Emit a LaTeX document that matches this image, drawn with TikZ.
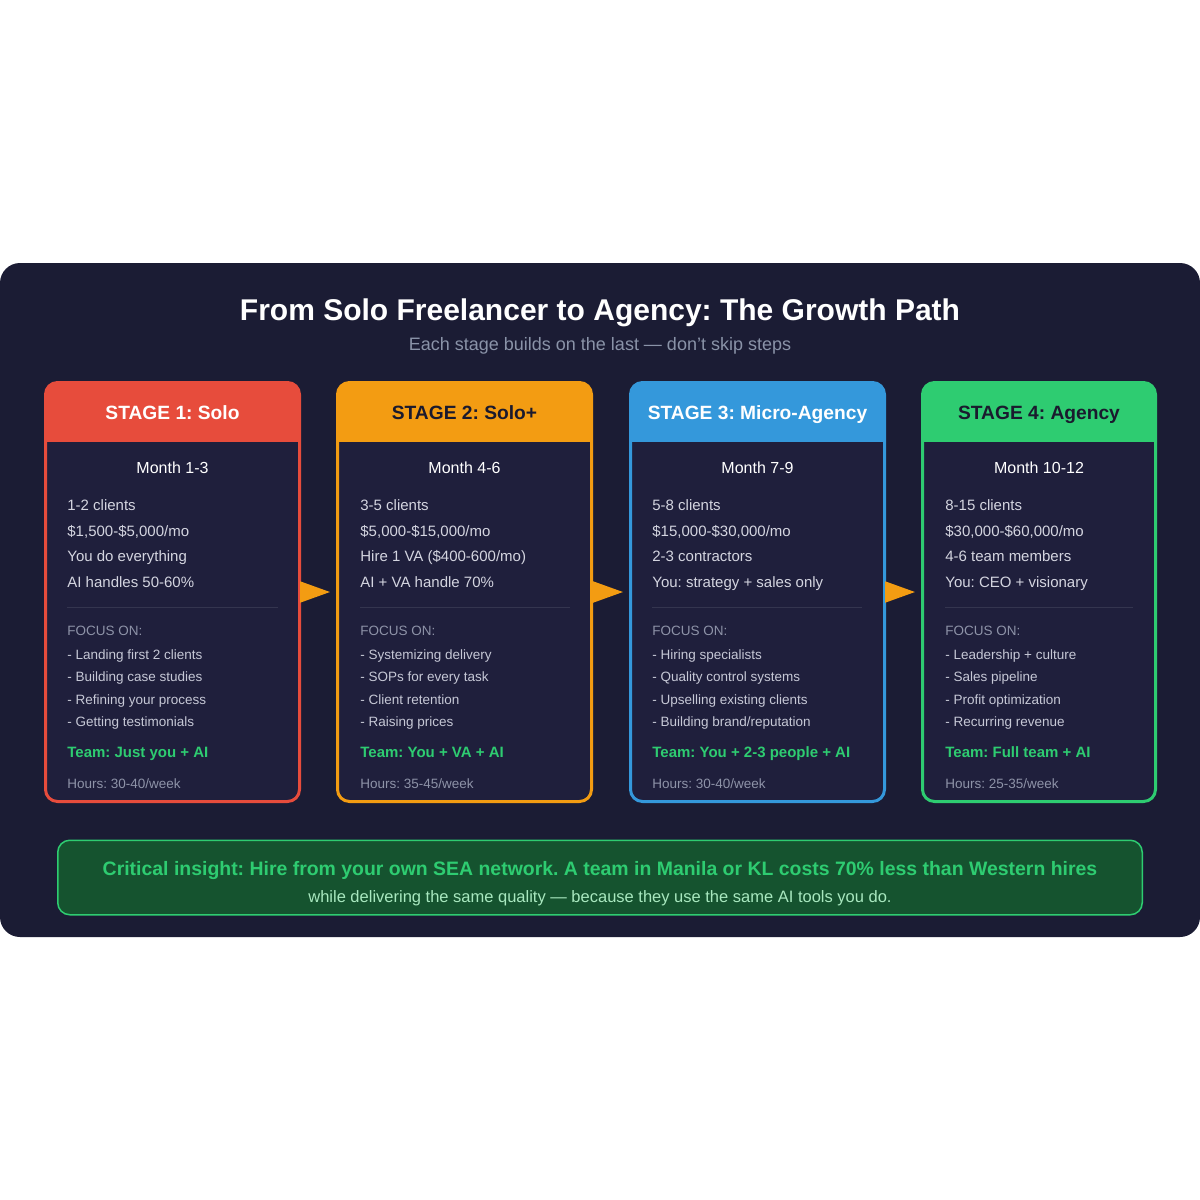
\documentclass[tikz,border=0pt]{standalone}
\usepackage{fontspec}
\setmainfont{Liberation Sans}
\usepackage{xcolor}
\usetikzlibrary{arrows.meta,positioning}
\frenchspacing

\definecolor{panelbg}{HTML}{1B1C34}
\definecolor{cardbg}{HTML}{1F1F3C}
\definecolor{rulegray}{HTML}{34354F}
\definecolor{stagered}{HTML}{E74C3C}
\definecolor{stageorange}{HTML}{F39C12}
\definecolor{stageblue}{HTML}{3498DB}
\definecolor{stagegreen}{HTML}{2ECC71}
\definecolor{headdark}{HTML}{1A1A2E}
\definecolor{bodytext}{HTML}{D4D5E0}
\definecolor{mutedtext}{HTML}{8E93A8}
\definecolor{bullettext}{HTML}{C6C8D6}
\definecolor{subgray}{HTML}{8A93A8}
\definecolor{insightbg}{HTML}{15532F}
\definecolor{insightsub}{HTML}{A8E8BF}

\begin{document}
\begin{tikzpicture}[x=0.5pt, y=-0.5pt,
  stagecard/.style={line width=1.5pt, fill=cardbg, rounded corners=6pt,
    minimum height=209.5pt, inner sep=0pt, outer sep=0pt},
  headtxt/.style={font=\fontsize{9.6}{11}\selectfont\bfseries, anchor=base},
  monthtxt/.style={font=\fontsize{8}{10}\selectfont, text=white, anchor=base},
  infotxt/.style={font=\fontsize{7.5}{9}\selectfont, text=bodytext, anchor=base west, inner sep=0pt},
  focustxt/.style={font=\fontsize{6.75}{8}\selectfont, text=mutedtext, anchor=base west, inner sep=0pt},
  bullettxt/.style={font=\fontsize{6.75}{8}\selectfont, text=bullettext, anchor=base west, inner sep=0pt},
  teamtxt/.style={font=\fontsize{7.5}{9}\selectfont\bfseries, text=stagegreen, anchor=base west, inner sep=0pt},
  hourstxt/.style={font=\fontsize{6.75}{8}\selectfont, text=mutedtext, anchor=base west, inner sep=0pt},
  divider/.style={draw=rulegray, line width=0.5pt},
  flow/.style={draw=stageorange, line width=1pt, -{Triangle[length=15pt, width=10.5pt]}, shorten >=3.75pt}]

% Page and panel
\fill[white] (0,0) rectangle (1200,1200);
\useasboundingbox (0,0) rectangle (1200,1200);
\fill[panelbg, rounded corners=10pt] (0,263) rectangle (1200,937);

% Title
\node[font=\fontsize{15}{18}\selectfont\bfseries, text=white, anchor=base] (title) at (600,320)
  {From Solo Freelancer to Agency: The Growth Path};
\node[font=\fontsize{9}{11}\selectfont, text=subgray, anchor=base] (subtitle) at (600,350)
  {Each stage builds on the last --- don't skip steps};

% Stage 1
\node[stagecard, draw=stagered, minimum width=127pt] (card1) at (172.5,592) {};
\begin{scope}
  \clip[rounded corners=6pt] (card1.north west) rectangle (card1.south east);
  \fill[stagered] (card1.north west) rectangle ([yshift=-29.75pt]card1.north east);
\end{scope}
\node[headtxt, text=white] (head1) at (172.5,419) {STAGE 1: Solo};
\node[monthtxt] (month1) at (172.5,473) {Month 1-3};
\node[infotxt] (s1a) at (67,510) {1-2 clients};
\node[infotxt] (s1b) at (67,536) {\$1,500-\$5,000/mo};
\node[infotxt] (s1c) at (67,561) {You do everything};
\node[infotxt] (s1d) at (67,587) {AI handles 50-60\%};
\draw[divider] (67,607.5) -- (278,607.5);
\node[focustxt] (s1focus) at (67,635) {FOCUS ON:};
\node[bullettxt] (s1f1) at (67,659) {- Landing first 2 clients};
\node[bullettxt] (s1f2) at (67,681) {- Building case studies};
\node[bullettxt] (s1f3) at (67,704) {- Refining your process};
\node[bullettxt] (s1f4) at (67,726) {- Getting testimonials};
\node[teamtxt] (s1team) at (67,757.5) {Team: Just you + AI};
\node[hourstxt] (s1hours) at (67,788) {Hours: 30-40/week};

% Stage 2
\node[stagecard, draw=stageorange, minimum width=127pt] (card2) at (464.5,592) {};
\begin{scope}
  \clip[rounded corners=6pt] (card2.north west) rectangle (card2.south east);
  \fill[stageorange] (card2.north west) rectangle ([yshift=-29.75pt]card2.north east);
\end{scope}
\node[headtxt, text=headdark] (head2) at (464.5,419) {STAGE 2: Solo+};
\node[monthtxt] (month2) at (464.5,473) {Month 4-6};
\node[infotxt] (s2a) at (360,510) {3-5 clients};
\node[infotxt] (s2b) at (360,536) {\$5,000-\$15,000/mo};
\node[infotxt] (s2c) at (360,561) {Hire 1 VA (\$400-600/mo)};
\node[infotxt] (s2d) at (360,587) {AI + VA handle 70\%};
\draw[divider] (360,607.5) -- (570,607.5);
\node[focustxt] (s2focus) at (360,635) {FOCUS ON:};
\node[bullettxt] (s2f1) at (360,659) {- Systemizing delivery};
\node[bullettxt] (s2f2) at (360,681) {- SOPs for every task};
\node[bullettxt] (s2f3) at (360,704) {- Client retention};
\node[bullettxt] (s2f4) at (360,726) {- Raising prices};
\node[teamtxt] (s2team) at (360,757.5) {Team: You + VA + AI};
\node[hourstxt] (s2hours) at (360,788) {Hours: 35-45/week};

% Stage 3
\node[stagecard, draw=stageblue, minimum width=127pt] (card3) at (757.5,592) {};
\begin{scope}
  \clip[rounded corners=6pt] (card3.north west) rectangle (card3.south east);
  \fill[stageblue] (card3.north west) rectangle ([yshift=-29.75pt]card3.north east);
\end{scope}
\node[headtxt, text=white] (head3) at (757.5,419) {STAGE 3: Micro-Agency};
\node[monthtxt] (month3) at (757.5,473) {Month 7-9};
\node[infotxt] (s3a) at (652,510) {5-8 clients};
\node[infotxt] (s3b) at (652,536) {\$15,000-\$30,000/mo};
\node[infotxt] (s3c) at (652,561) {2-3 contractors};
\node[infotxt] (s3d) at (652,587) {You: strategy + sales only};
\draw[divider] (652,607.5) -- (862,607.5);
\node[focustxt] (s3focus) at (652,635) {FOCUS ON:};
\node[bullettxt] (s3f1) at (652,659) {- Hiring specialists};
\node[bullettxt] (s3f2) at (652,681) {- Quality control systems};
\node[bullettxt] (s3f3) at (652,704) {- Upselling existing clients};
\node[bullettxt] (s3f4) at (652,726) {- Building brand/reputation};
\node[teamtxt] (s3team) at (652,757.5) {Team: You + 2-3 people + AI};
\node[hourstxt] (s3hours) at (652,788) {Hours: 30-40/week};

% Stage 4
\node[stagecard, draw=stagegreen, minimum width=116.5pt] (card4) at (1039,592) {};
\begin{scope}
  \clip[rounded corners=6pt] (card4.north west) rectangle (card4.south east);
  \fill[stagegreen] (card4.north west) rectangle ([yshift=-29.75pt]card4.north east);
\end{scope}
\node[headtxt, text=headdark] (head4) at (1039,419) {STAGE 4: Agency};
\node[monthtxt] (month4) at (1039,473) {Month 10-12};
\node[infotxt] (s4a) at (945,510) {8-15 clients};
\node[infotxt] (s4b) at (945,536) {\$30,000-\$60,000/mo};
\node[infotxt] (s4c) at (945,561) {4-6 team members};
\node[infotxt] (s4d) at (945,587) {You: CEO + visionary};
\draw[divider] (945,607.5) -- (1133,607.5);
\node[focustxt] (s4focus) at (945,635) {FOCUS ON:};
\node[bullettxt] (s4f1) at (945,659) {- Leadership + culture};
\node[bullettxt] (s4f2) at (945,681) {- Sales pipeline};
\node[bullettxt] (s4f3) at (945,704) {- Profit optimization};
\node[bullettxt] (s4f4) at (945,726) {- Recurring revenue};
\node[teamtxt] (s4team) at (945,757.5) {Team: Full team + AI};
\node[hourstxt] (s4hours) at (945,788) {Hours: 25-35/week};

% Arrows between stages
\draw[flow] (card1.east) -- (card2.west);
\draw[flow] (card2.east) -- (card3.west);
\draw[flow] (card3.east) -- (card4.west);

% Insight box
\node[draw=stagegreen, fill=insightbg, line width=0.75pt, rounded corners=6pt,
  minimum width=542.25pt, minimum height=37.25pt, inner sep=0pt] (insight) at (600,877.5) {};
\node[font=\fontsize{9.72}{11}\selectfont\bfseries, text=stagegreen, anchor=base] (insight1) at (600,875)
  {Critical insight: Hire from your own SEA network. A team in Manila or KL costs 70\% less than Western hires};
\node[font=\fontsize{8.25}{10}\selectfont, text=insightsub, anchor=base] (insight2) at (600,902)
  {while delivering the same quality --- because they use the same AI tools you do.};
\end{tikzpicture}
\end{document}
